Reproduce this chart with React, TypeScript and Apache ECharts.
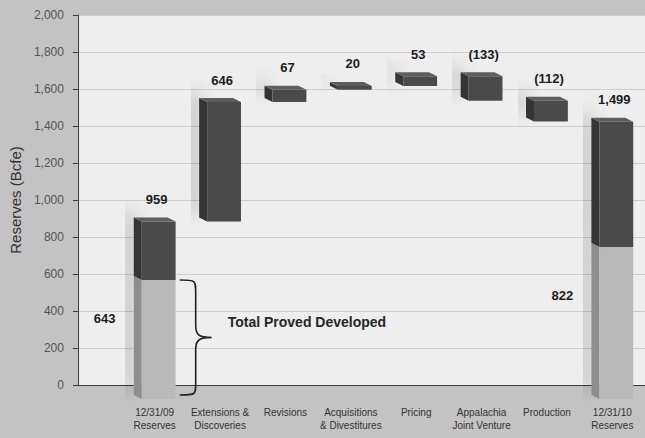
import React, { useEffect, useRef } from 'react';
import * as echarts from 'echarts';

// ---- data ----
const categories = [
  '12/31/09\nReserves',
  'Extensions &\nDiscoveries',
  'Revisions',
  'Acquisitions\n& Divestitures',
  'Pricing',
  'Appalachia\nJoint Venture',
  'Production',
  '12/31/10\nReserves',
];
const openingTotal = 959;
const openingDeveloped = 643;
const changes = [646, 67, 20, 53, -133, -112]; // categories 1..6
const closingTotal = 1499;
const closingDeveloped = 822;
const yMin = 0;
const yMax = 2000;
const yInterval = 200;
const annotationText = 'Total Proved Developed';
const yAxisTitle = 'Reserves (Bcfe)';

const FONT = '"Liberation Sans", Arial, Helvetica, sans-serif';

type Box = { i: number; lo: number; hi: number; tone: 'light' | 'dark' };

function buildBoxes() {
  const boxes: Box[] = [];
  const labels: { i: number; top: number; text: string }[] = [];
  boxes.push({ i: 0, lo: 0, hi: openingDeveloped, tone: 'light' });
  boxes.push({ i: 0, lo: openingDeveloped, hi: openingTotal, tone: 'dark' });
  labels.push({ i: 0, top: openingTotal, text: openingTotal.toLocaleString('en-US') });
  let run = openingTotal;
  changes.forEach((c, k) => {
    const lo = Math.min(run, run + c);
    const hi = Math.max(run, run + c);
    boxes.push({ i: k + 1, lo, hi, tone: 'dark' });
    labels.push({ i: k + 1, top: hi, text: c < 0 ? `(${Math.abs(c)})` : String(c) });
    run += c;
  });
  const last = categories.length - 1;
  boxes.push({ i: last, lo: 0, hi: closingDeveloped, tone: 'light' });
  boxes.push({ i: last, lo: closingDeveloped, hi: closingTotal, tone: 'dark' });
  labels.push({ i: last, top: closingTotal, text: closingTotal.toLocaleString('en-US') });
  const developed = [
    { i: 0, v: openingDeveloped },
    { i: last, v: closingDeveloped },
  ];
  return { boxes, labels, developed };
}

const DY = 14; // perspective drop of the front faces
const DEPTH_X = 8;
const DEPTH_Y = 4;

const palette = {
  dark: { front: '#4a4a4a', side: '#363636', top: '#5e5e5e' },
  light: { front: '#b9b9b9', side: '#8e8e8e', top: '#cdcdcd' },
};

export default function App() {
  const ref = useRef<HTMLDivElement>(null);
  useEffect(() => {
    if (!ref.current) return;
    const chart = echarts.init(ref.current, null, { renderer: 'svg' });
    const { boxes, labels, developed } = buildBoxes();

    const option: any = {
      animation: false,
      backgroundColor: '#c3c3c3',
      textStyle: { fontFamily: FONT },
      grid: [
        { left: 77, right: 0, top: 15, bottom: 53, show: true, backgroundColor: '#eeeeee', borderWidth: 0 },
        { left: 122, right: 0, top: 15, bottom: 53 },
      ],
      xAxis: [
        {
          gridIndex: 0, type: 'value', min: 0, max: 1, position: 'bottom',
          axisLine: { show: true, lineStyle: { color: '#3a3a3a', width: 1 } },
          axisTick: { show: false }, axisLabel: { show: false }, splitLine: { show: false },
        },
        {
          gridIndex: 1, type: 'category', data: categories,
          axisLine: { show: false }, axisTick: { show: false }, splitLine: { show: false },
          axisLabel: { interval: 0, fontSize: 10, lineHeight: 13, color: '#333', margin: 21, fontFamily: FONT },
        },
      ],
      yAxis: [
        {
          gridIndex: 0, type: 'value', min: yMin, max: yMax, interval: yInterval,
          name: yAxisTitle, nameLocation: 'middle', nameRotate: 90, nameGap: 46,
          nameTextStyle: { fontSize: 15, color: '#333', fontFamily: FONT },
          axisLine: { show: true, lineStyle: { color: '#3a3a3a', width: 1 } },
          axisTick: { show: true, length: 5, lineStyle: { color: '#3a3a3a' } },
          axisLabel: {
            fontSize: 12, color: '#555', margin: 14, fontFamily: FONT,
            formatter: (v: number) => v.toLocaleString('en-US'),
          },
          splitLine: { show: true, lineStyle: { color: '#cdcdcd', width: 1 } },
        },
        { gridIndex: 1, type: 'value', min: yMin, max: yMax, interval: yInterval, show: false },
      ],
      series: [
        {
          type: 'custom',
          name: 'boxes',
          xAxisIndex: 1, yAxisIndex: 1,
          encode: { x: 0, y: [1, 2] },
          data: boxes.map((b) => [b.i, b.lo, b.hi]),
          renderItem: (params: any, api: any) => {
            const b = boxes[params.dataIndex];
            const pLo = api.coord([api.value(0), api.value(1)]);
            const pHi = api.coord([api.value(0), api.value(2)]);
            const band = api.size([1, 0])[0];
            const cx = pLo[0];
            const half = band * 0.32;
            const x0 = cx - half + DEPTH_X;
            const x1 = cx + half;
            const yt = pHi[1] + DY;
            const yb = pLo[1] + DY;
            const c = palette[b.tone];
            return {
              type: 'group',
              children: [
                {
                  type: 'polygon',
                  shape: { points: [[x0, yt], [x0, yb], [x0 - DEPTH_X, yb - DEPTH_Y], [x0 - DEPTH_X, yt - DEPTH_Y]] },
                  style: { fill: c.side, shadowBlur: 18, shadowColor: 'rgba(0,0,0,0.32)', shadowOffsetX: -9, shadowOffsetY: -7 },
                },
                {
                  type: 'rect',
                  shape: { x: x0, y: yt, width: x1 - x0, height: yb - yt },
                  style: { fill: c.front },
                },
                {
                  type: 'polygon',
                  shape: { points: [[x0, yt], [x1, yt], [x1 - DEPTH_X, yt - DEPTH_Y], [x0 - DEPTH_X, yt - DEPTH_Y]] },
                  style: { fill: c.top },
                },
              ],
            };
          },
          z: 3,
        },
        {
          type: 'custom',
          name: 'values',
          xAxisIndex: 1, yAxisIndex: 1,
          encode: { x: 0, y: 1 },
          data: labels.map((l) => [l.i, l.top]),
          renderItem: (params: any, api: any) => {
            const l = labels[params.dataIndex];
            const p = api.coord([api.value(0), api.value(1)]);
            return {
              type: 'text',
              x: p[0] + 2,
              y: p[1] + DY - 22,
              style: {
                text: l.text, fill: '#1c1c1c', font: `bold 13px ${FONT}`,
                align: 'center', verticalAlign: 'middle',
              },
            };
          },
          z: 4,
        },
        {
          type: 'custom',
          name: 'developed',
          xAxisIndex: 1, yAxisIndex: 1,
          encode: { x: 0, y: 1 },
          data: developed.map((d) => [d.i, d.v]),
          renderItem: (params: any, api: any) => {
            const d = developed[params.dataIndex];
            const p = api.coord([api.value(0), api.value(1) * 0.68]);
            return {
              type: 'text',
              x: p[0] - 50,
              y: p[1] + DY,
              style: {
                text: d.v.toLocaleString('en-US'), fill: '#1c1c1c', font: `bold 13px ${FONT}`,
                align: 'center', verticalAlign: 'middle',
              },
            };
          },
          z: 4,
        },
        {
          type: 'custom',
          name: 'brace',
          xAxisIndex: 1, yAxisIndex: 1,
          encode: { x: 0, y: 1 },
          data: [[0, openingDeveloped]],
          renderItem: (params: any, api: any) => {
            const pT = api.coord([api.value(0), api.value(1)]);
            const pB = api.coord([api.value(0), 0]);
            const cx = pT[0];
            const T = pT[1] + DY;
            const B = pB[1] + DY - 4;
            const M = (T + B) / 2;
            const xa = cx + 25;
            const xl = cx + 41;
            const xt = cx + 57;
            const d =
              `M${xa},${T} C${xl},${T} ${xl},${T} ${xl},${T + 12} ` +
              `L${xl},${M - 12} C${xl},${M - 2} ${xl + 4},${M} ${xt},${M} ` +
              `C${xl + 4},${M} ${xl},${M + 2} ${xl},${M + 12} ` +
              `L${xl},${B - 12} C${xl},${B} ${xl},${B} ${xa},${B}`;
            return {
              type: 'group',
              children: [
                {
                  type: 'path',
                  shape: { pathData: d },
                  style: { fill: 'none', stroke: '#222', lineWidth: 1.6 },
                },
                {
                  type: 'text',
                  x: cx + 73,
                  y: M - 16,
                  style: {
                    text: annotationText, fill: '#262626', font: `bold 14px ${FONT}`,
                    align: 'left', verticalAlign: 'middle',
                  },
                },
              ],
            };
          },
          z: 4,
        },
      ],
    };
    chart.setOption(option);
    return () => chart.dispose();
  }, []);
  return <div ref={ref} style={{ position: 'absolute', left: 0, top: 0, width: 645, height: 438 }} />;
}
